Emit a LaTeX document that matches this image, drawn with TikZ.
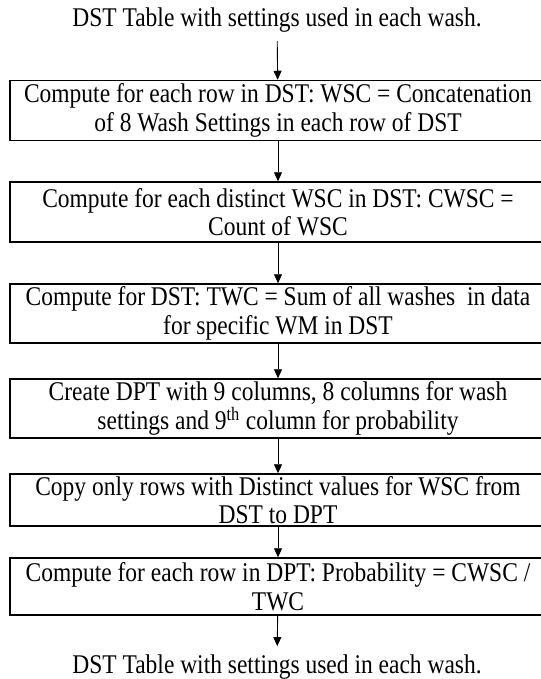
\documentclass[tikz,border=0pt]{standalone}
\usepackage{fontspec}
\setmainfont{Liberation Serif}[FakeStretch=0.87]
\usetikzlibrary{arrows.meta}

\begin{document}
\begin{tikzpicture}[x=1pt,y=-1pt,
  stepbox/.style={draw, line width=1.5pt, minimum width=536pt, align=center, inner sep=0pt, font=\fontsize{27}{28.5}\selectfont},
  endtext/.style={inner xsep=0pt, inner ysep=8pt, font=\fontsize{27}{28.5}\selectfont},
  flow/.style={line width=0.9pt, ->, >={Triangle[length=9pt,width=8pt]}}]
\useasboundingbox (0,0) rectangle (540,679);
% start and end of the flow
\node[endtext, anchor=base] (dstin) at (277,27) {DST Table with settings used in each wash.};
\node[endtext, anchor=base] (dstout) at (277,673) {DST Table with settings used in each wash.};
% steps
\node[stepbox, minimum height=60pt] (wsc) at (278,110.5) {Compute for each row in DST: WSC = Concatenation\\of 8 Wash Settings in each row of DST};
\node[stepbox, minimum height=60pt] (cwsc) at (278,212) {Compute for each distinct WSC in DST: CWSC =\\Count of WSC};
\node[stepbox, minimum height=59pt] (twc) at (278,313.5) {Compute for DST: TWC = Sum of all washes \ in data\\for specific WM in DST};
\node[stepbox, minimum height=59pt] (dpt) at (278,408.5) {Create DPT with 9 columns, 8 columns for wash\\settings and 9\textsuperscript{th} column for probability};
\node[stepbox, minimum height=52pt] (copy) at (278,500) {Copy only rows with Distinct values for WSC from\\DST to DPT};
\node[stepbox, minimum height=57pt] (prob) at (278,586.5) {Compute for each row in DPT: Probability = CWSC /\\TWC};
% arrows
\draw[flow] (dstin) -- (wsc);
\draw[flow] (wsc) -- (cwsc);
\draw[flow] (cwsc) -- (twc);
\draw[flow] (twc) -- (dpt);
\draw[flow] (dpt) -- (copy);
\draw[flow] (copy) -- (prob);
\draw[flow] (prob) -- (dstout);
\end{tikzpicture}
\end{document}
